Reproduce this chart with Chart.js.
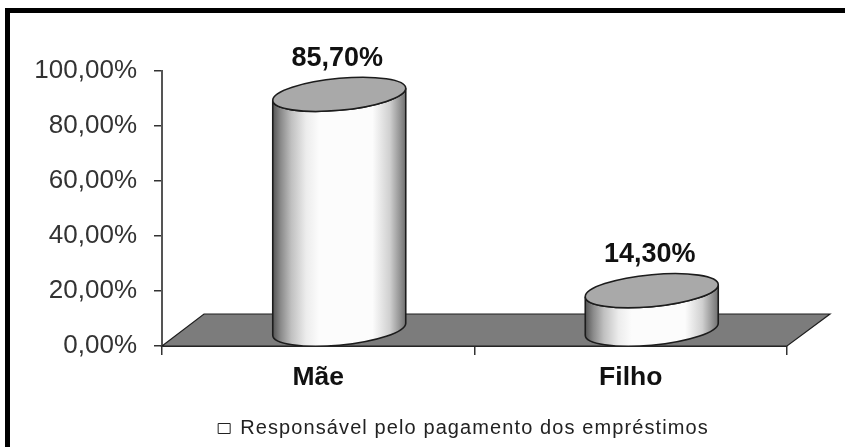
<!DOCTYPE html>
<html><head><meta charset="utf-8">
<style>html,body{margin:0;padding:0;background:#fff}canvas{display:block;filter:blur(0.4px)}</style>
<script src="https://cdn.jsdelivr.net/npm/chart.js@4"></script>
</head><body>
<div style="width:845px;height:447px"><canvas id="c" width="845" height="447"></canvas></div>
<script>
const categories = ['Mãe', 'Filho'];
const seriesLabel = 'Responsável pelo pagamento dos empréstimos';
const seriesValues = [85.7, 14.3];
const valueLabels = ['85,70%', '14,30%'];
const yTicks = [0, 20, 40, 60, 80, 100];

const FONT = '"Liberation Sans", Arial, sans-serif';
const DEPTH_X = 42, DEPTH_Y = 32;

class CylinderBar extends Chart.BarElement {
  draw(ctx) {
    const p = this.getProps(['x', 'y', 'base', 'width']);
    const cx = p.x + DEPTH_X / 2, top = p.y - DEPTH_Y / 2, base = p.base - DEPTH_Y / 2;
    const rx = p.width / 2, ry = 16, k = 6;
    const shear = () => ctx.transform(1, -k / rx, 0, 1, cx, 0);
    ctx.save();
    shear();
    const g = ctx.createLinearGradient(-rx, 0, rx, 0);
    g.addColorStop(0, '#555555');
    g.addColorStop(0.06, '#8a8a8a');
    g.addColorStop(0.14, '#c0c0c0');
    g.addColorStop(0.25, '#ececec');
    g.addColorStop(0.35, '#fcfcfc');
    g.addColorStop(0.75, '#fcfcfc');
    g.addColorStop(0.88, '#d0d0d0');
    g.addColorStop(0.95, '#999999');
    g.addColorStop(1, '#707070');
    ctx.beginPath();
    ctx.moveTo(-rx, top);
    ctx.lineTo(-rx, base);
    ctx.ellipse(0, base, rx, ry, 0, Math.PI, 0, true);
    ctx.lineTo(rx, top);
    ctx.ellipse(0, top, rx, ry, 0, 0, Math.PI, false);
    ctx.closePath();
    ctx.fillStyle = g;
    ctx.fill();
    ctx.restore();
    ctx.lineWidth = 1.6;
    ctx.strokeStyle = '#1c1c1c';
    ctx.stroke();
    ctx.save();
    shear();
    ctx.beginPath();
    ctx.ellipse(0, top, rx, ry, 0, 0, Math.PI * 2);
    ctx.fillStyle = '#a9a9a9';
    ctx.fill();
    ctx.restore();
    ctx.stroke();
  }
}
CylinderBar.id = 'cylinderBar';
class CylinderController extends Chart.BarController {}
CylinderController.id = 'cylinder';
CylinderController.defaults = Object.assign({}, Chart.BarController.defaults, { dataElementType: 'cylinderBar' });
CylinderController.overrides = Chart.BarController.overrides;
Chart.register(CylinderBar, CylinderController);

const frameAndFloor = {
  id: 'frameAndFloor',
  beforeLayout(chart) {
    const l = chart.legend;
    if (l && !l._spaced) {
      l._spaced = true;
      const origFit = l.fit, origDraw = l.draw;
      l.fit = function () {
        const ctx = chart.ctx; ctx.save(); ctx.letterSpacing = '1.1px';
        const r = origFit.apply(l, arguments); ctx.restore(); return r;
      };
      l.draw = function () {
        const ctx = chart.ctx; ctx.save(); ctx.letterSpacing = '1.1px'; ctx.translate(70, 1.5);
        const r = origDraw.apply(l, arguments); ctx.restore(); return r;
      };
    }
  },
  beforeDatasetsDraw(chart) {
    const { ctx, scales: { x, y } } = chart;
    const y0 = y.getPixelForValue(0);
    ctx.save();
    ctx.beginPath();
    ctx.moveTo(x.left, y0);
    ctx.lineTo(x.left + DEPTH_X, y0 - DEPTH_Y);
    ctx.lineTo(x.right + DEPTH_X + 1, y0 - DEPTH_Y);
    ctx.lineTo(x.right, y0);
    ctx.closePath();
    ctx.fillStyle = '#7c7c7c';
    ctx.fill();
    ctx.lineWidth = 1.2;
    ctx.strokeStyle = '#1e1e1e';
    ctx.stroke();
    ctx.restore();
  },
  afterDatasetsDraw(chart) {
    const { ctx } = chart;
    const meta = chart.getDatasetMeta(0);
    ctx.save();
    ctx.font = 'bold 27px ' + FONT;
    ctx.fillStyle = '#111';
    ctx.textAlign = 'center';
    ctx.textBaseline = 'middle';
    meta.data.forEach((el, i) => {
      ctx.fillText(valueLabels[i], el.x + DEPTH_X / 2 - 2, el.y - DEPTH_Y / 2 - 36);
    });
    ctx.restore();
  },
  afterDraw(chart) {
    const { ctx } = chart;
    ctx.save();
    ctx.fillStyle = '#000';
    ctx.fillRect(5, 8, 840, 5);
    ctx.fillRect(5, 8, 5, 439);
    ctx.restore();
  }
};

new Chart(document.getElementById('c'), {
  type: 'cylinder',
  data: {
    labels: categories,
    datasets: [{
      label: seriesLabel,
      data: seriesValues,
      backgroundColor: '#ffffff',
      borderColor: '#222222',
      borderWidth: 1,
      barPercentage: 0.4256,
      categoryPercentage: 1
    }]
  },
  plugins: [frameAndFloor],
  options: {
    responsive: false,
    animation: false,
    layout: { padding: { left: 0, right: 58, top: 71, bottom: 0 } },
    scales: {
      x: {
        offset: true,
        grid: { display: true, drawOnChartArea: false, drawTicks: true, tickLength: 9, color: '#333', lineWidth: 1.5, offset: true },
        border: { display: true, color: '#2a2a2a', width: 2 },
        ticks: { color: '#111', font: { family: FONT, size: 26.5, weight: 'bold' }, padding: 7, maxRotation: 0 },
        afterFit(s) { s.height = 63; }
      },
      y: {
        min: 0, max: 100,
        grid: { display: true, drawOnChartArea: false, drawTicks: true, tickLength: 8, color: '#333', lineWidth: 1.5 },
        border: { display: true, color: '#555', width: 2 },
        afterBuildTicks(s) { s.ticks = yTicks.map(v => ({ value: v })); },
        ticks: {
          color: '#333', font: { family: FONT, size: 26 }, padding: 17,
          callback: v => v.toFixed(2).replace('.', ',') + '%'
        },
        afterFit(s) { s.width = 162; }
      }
    },
    plugins: {
      title: { display: false },
      tooltip: { enabled: false },
      legend: {
        display: true, position: 'bottom',
        labels: {
          color: '#222', font: { family: FONT, size: 20 }, boxWidth: 12, boxHeight: 10,
          padding: 8,
          generateLabels: c => [{ text: seriesLabel, fillStyle: '#fff', strokeStyle: '#222', lineWidth: 1, hidden: false, datasetIndex: 0, fontColor: '#222' }]
        }
      }
    }
  }
});
</script>
</body></html>
